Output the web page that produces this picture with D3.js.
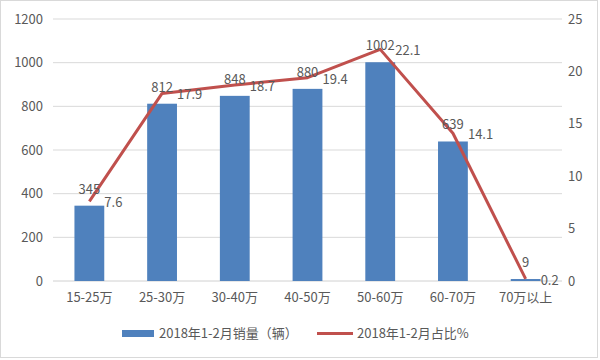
<!DOCTYPE html>
<html><head><meta charset="utf-8">
<script src="https://cdn.jsdelivr.net/npm/d3@7"></script>
<style>body{margin:0;background:#fff}svg{display:block}text{font-family:"Noto Sans CJK SC","Noto Sans",sans-serif;fill:#595959}</style>
</head><body>
<script>
const categories = ["15-25万","25-30万","30-40万","40-50万","50-60万","60-70万","70万以上"];
const sales = [345,812,848,880,1002,639,9];
const share = [7.6,17.9,18.7,19.4,22.1,14.1,0.2];
const leftTicks = [0,200,400,600,800,1000,1200];
const rightTicks = [0,5,10,15,20,25];
const legendLabels = ["2018年1-2月销量（辆）","2018年1-2月占比%"];

const W=600,H=360;
const svg=d3.select("body").append("svg").attr("width",W).attr("height",H);
svg.append("rect").attr("x",0.5).attr("y",0.5).attr("width",W-3).attr("height",H-3).attr("fill","#fff").attr("stroke","#d9d9d9");
const L=53,R=562,T=19,B=281;
const x=d3.scaleBand().domain(categories).range([L,R]).paddingInner(0.59).paddingOuter(0.295);
const yl=d3.scaleLinear().domain([0,1200]).range([B,T]);
const yr=d3.scaleLinear().domain([0,25]).range([B,T]);
const cx=d=>x(d)+x.bandwidth()/2;

// grid
svg.append("g").selectAll("line").data(leftTicks).join("line")
 .attr("x1",L).attr("x2",R).attr("y1",d=>yl(d)).attr("y2",d=>yl(d))
 .attr("stroke",d=>d===0?"#d0d0d0":"#d9d9d9").attr("stroke-width",1);

// axes
const ga=svg.append("g").attr("transform",`translate(${L-10},0)`).call(d3.axisLeft(yl).tickValues(leftTicks).tickFormat(d3.format("d")).tickSize(0).tickPadding(0));
ga.select(".domain").remove();
ga.selectAll("text").style("font-size","13px").attr("fill","#595959");
const gr=svg.append("g").attr("transform",`translate(${R+6},0)`).call(d3.axisRight(yr).tickValues(rightTicks).tickFormat(d3.format("d")).tickSize(0).tickPadding(0));
gr.select(".domain").remove();
gr.selectAll("text").style("font-size","13px").attr("fill","#595959");
const gx=svg.append("g").attr("transform",`translate(0,${B})`).call(d3.axisBottom(x).tickSize(0).tickPadding(12));
gx.select(".domain").remove();
gx.selectAll("text").style("font-size","13px").attr("fill","#595959");

// bars
svg.append("g").selectAll("rect").data(categories).join("rect")
 .attr("x",d=>x(d)).attr("width",x.bandwidth())
 .attr("y",(d,i)=>yl(sales[i])).attr("height",(d,i)=>B-yl(sales[i]))
 .attr("fill","#4f81bd");

// line
const line=d3.line().x((d,i)=>cx(categories[i])).y(d=>yr(d));
svg.append("path").datum(share).attr("d",line).attr("fill","none")
 .attr("stroke","#c0504d").attr("stroke-width",3).attr("stroke-linejoin","round");

// labels
svg.append("g").selectAll("text").data(sales).join("text")
 .attr("x",(d,i)=>cx(categories[i])).attr("y",d=>yl(d)-12)
 .attr("text-anchor","middle").style("font-size","13px").text(d=>d);
svg.append("g").selectAll("text").data(share).join("text")
 .attr("x",(d,i)=>cx(categories[i])+15).attr("y",d=>yr(d)+6)
 .style("font-size","13px").text(d=>d);

// legend
const lg=svg.append("g");
lg.append("rect").attr("x",122).attr("y",330).attr("width",32).attr("height",7).attr("fill","#4f81bd");
lg.append("text").attr("x",159).attr("y",338).style("font-size","13px").text(legendLabels[0]);
lg.append("line").attr("x1",317).attr("x2",353).attr("y1",333.5).attr("y2",333.5).attr("stroke","#c0504d").attr("stroke-width",3);
lg.append("text").attr("x",357).attr("y",338).style("font-size","13px").text(legendLabels[1]);
</script>
</body></html>
